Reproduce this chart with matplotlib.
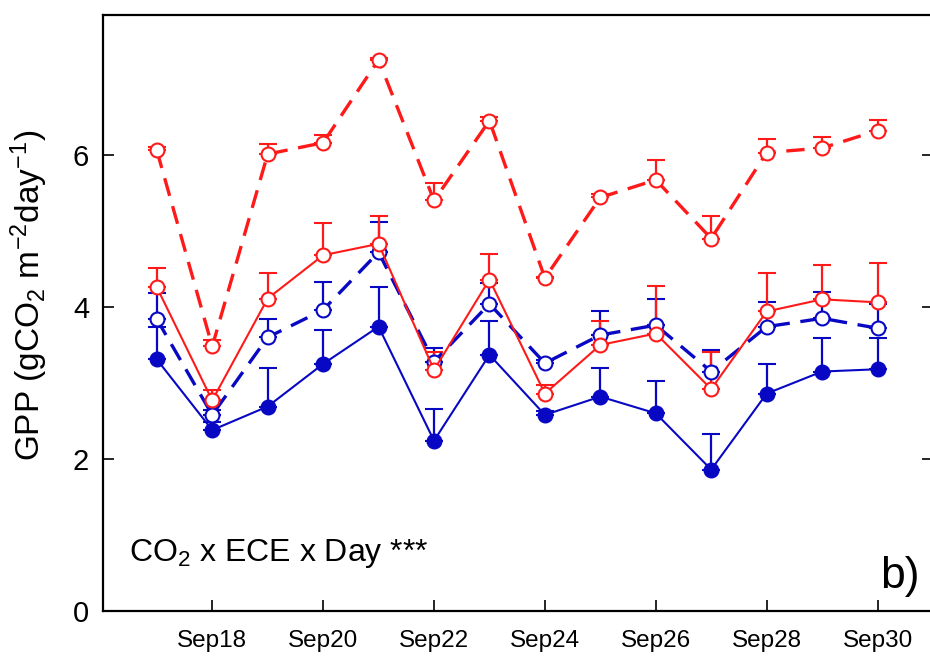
import numpy as np
import matplotlib
matplotlib.use("Agg")
import matplotlib.pyplot as plt

plt.rcParams["font.family"] = ["Liberation Sans", "DejaVu Sans"]
plt.rcParams["mathtext.default"] = "regular"

# daily GPP, September 17-30
days = np.arange(17, 31)
tick_days = [18, 20, 22, 24, 26, 28, 30]
tick_labels = ["Sep18", "Sep20", "Sep22", "Sep24", "Sep26", "Sep28", "Sep30"]

amb_ctrl = [3.31, 2.38, 2.69, 3.25, 3.74, 2.24, 3.37, 2.58, 2.82, 2.60, 1.86, 2.86, 3.15, 3.18]
amb_ctrl_se = [0.43, 0.10, 0.50, 0.44, 0.52, 0.42, 0.44, 0.05, 0.37, 0.43, 0.47, 0.39, 0.44, 0.41]

amb_ece = [3.84, 2.58, 3.60, 3.96, 4.72, 3.28, 4.04, 3.26, 3.63, 3.76, 3.15, 3.74, 3.85, 3.72]
amb_ece_se = [0.34, 0.06, 0.24, 0.37, 0.40, 0.18, 0.28, 0.04, 0.31, 0.35, 0.28, 0.33, 0.35, 0.32]

elev_ctrl = [4.26, 2.77, 4.11, 4.68, 4.83, 3.17, 4.36, 2.86, 3.50, 3.65, 2.92, 3.94, 4.10, 4.06]
elev_ctrl_se = [0.25, 0.14, 0.34, 0.42, 0.37, 0.24, 0.34, 0.11, 0.31, 0.62, 0.49, 0.51, 0.45, 0.52]

elev_ece = [6.06, 3.48, 6.01, 6.16, 7.25, 5.40, 6.45, 4.38, 5.44, 5.67, 4.90, 6.03, 6.09, 6.32]
elev_ece_se = [0.05, 0.08, 0.13, 0.10, 0.02, 0.23, 0.05, 0.02, 0.04, 0.26, 0.29, 0.18, 0.15, 0.14]

blue = "#0808c4"
red = "#ff1a1a"

fig = plt.figure(figsize=(9.3, 6.57), dpi=100)
ax = fig.add_axes([103 / 930, 1 - 611 / 657, 830 / 930, 596 / 657])


def series(y, se, color, filled, ls, lw, dashes=None):
    line, caps, bars = ax.errorbar(
        days, y, yerr=[np.zeros(len(se)), se], color=color, ecolor=color,
        elinewidth=1.6, capsize=6.5, capthick=1.6, lw=lw, ls=ls,
        marker="o", ms=10, mew=1.5, mec=color,
        mfc=color if filled else "white",
    )
    if dashes is not None:
        line.set_dashes(dashes)
    return line


series(amb_ctrl, amb_ctrl_se, blue, True, "-", 1.5)
series(amb_ece, amb_ece_se, blue, False, "--", 2.4, (5.5, 3.2))
series(elev_ctrl, elev_ctrl_se, red, False, "-", 1.5)
series(elev_ece, elev_ece_se, red, False, "--", 2.4, (5.5, 3.2))

ax.set_xlim(16.03, 31.0)
ax.set_ylim(0, 7.84)
ax.set_xticks(tick_days)
ax.set_xticklabels(tick_labels, fontsize=17.5)
ax.set_yticks([0, 2, 4, 6])
ax.tick_params(axis="y", direction="in", length=8, width=1.2, labelsize=21,
               right=True, pad=10)
ax.tick_params(axis="x", direction="in", length=8, width=1.2, pad=14)
for s in ax.spines.values():
    s.set_linewidth(1.6)

ax.set_ylabel("GPP (gCO$_2$ m$^{-2}$day$^{-1}$)", fontsize=24)
ax.yaxis.set_label_coords(-0.064, 0.53)

ax.text(16.5, 0.75, "CO$_2$ x ECE x Day ***", fontsize=23, va="center", ha="left")
ax.text(30.75, 0.45, "b)", fontsize=32, va="center", ha="right")

fig.savefig("out.png", dpi=100)
